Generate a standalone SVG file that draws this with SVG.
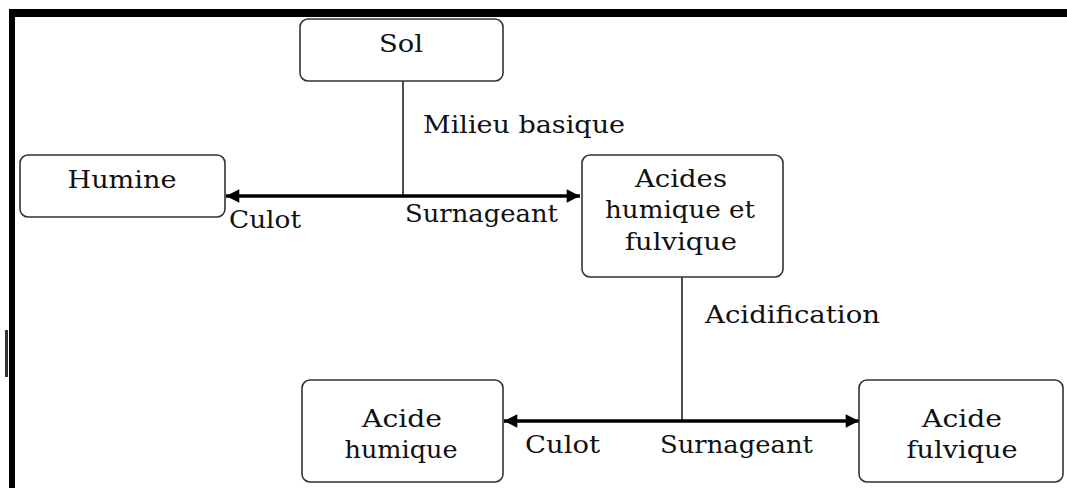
<svg xmlns="http://www.w3.org/2000/svg" width="1067" height="488" viewBox="0 0 1067 488">
<defs>
<style>
.box{fill:#fff;stroke:#333;stroke-width:1.6}
.t{font-family:"DejaVu Serif","Liberation Serif",serif;font-size:24px;fill:#111;text-anchor:middle}
.l{font-family:"DejaVu Serif","Liberation Serif",serif;font-size:24px;fill:#111}
.stem{stroke:#222;stroke-width:1.6;fill:none}
.arr{stroke:#000;stroke-width:3.5;fill:none}
</style>
<marker id="ah" viewBox="0 0 10 10" refX="10" refY="5" markerWidth="4.5" markerHeight="3.8" orient="auto-start-reverse" markerUnits="strokeWidth">
<path d="M0,0 L10,5 L0,10 z" fill="#000"/>
</marker>
</defs>
<rect x="0" y="0" width="1067" height="488" fill="#fff"/>
<g id="frame">
<rect x="9" y="9" width="1058" height="8" fill="#000"/>
<rect x="9" y="9" width="6" height="479" fill="#000"/>
<rect x="5" y="330" width="3" height="47" fill="#333"/>
</g>
<g id="connectors">
<line class="stem" x1="403" y1="81" x2="403" y2="196"/>
<line class="arr" x1="403" y1="196" x2="226" y2="196" marker-end="url(#ah)"/>
<line class="arr" x1="403" y1="196" x2="580" y2="196" marker-end="url(#ah)"/>
<line class="stem" x1="682" y1="277" x2="682" y2="421"/>
<line class="arr" x1="682" y1="421" x2="504" y2="421" marker-end="url(#ah)"/>
<line class="arr" x1="682" y1="421" x2="859" y2="421" marker-end="url(#ah)"/>
<text class="l" x="423" y="133" textLength="202" lengthAdjust="spacingAndGlyphs">Milieu basique</text>
<text class="l" x="229" y="228" textLength="72" lengthAdjust="spacingAndGlyphs">Culot</text>
<text class="l" x="405" y="222" textLength="153" lengthAdjust="spacingAndGlyphs">Surnageant</text>
<text class="l" x="705" y="323" textLength="175" lengthAdjust="spacingAndGlyphs">Acidification</text>
<text class="l" x="525" y="453" textLength="75" lengthAdjust="spacingAndGlyphs">Culot</text>
<text class="l" x="660" y="453" textLength="153" lengthAdjust="spacingAndGlyphs">Surnageant</text>
</g>
<g id="sol">
<rect class="box" x="300" y="19" width="203" height="62" rx="8"/>
<text class="t" x="401" y="52" textLength="44" lengthAdjust="spacingAndGlyphs">Sol</text>
</g>
<g id="humine">
<rect class="box" x="20" y="155" width="205" height="62" rx="8"/>
<text class="t" x="122" y="188" textLength="109" lengthAdjust="spacingAndGlyphs">Humine</text>
</g>
<g id="acides">
<rect class="box" x="582" y="155" width="201" height="122" rx="8"/>
<text class="t" x="681" y="187" textLength="92" lengthAdjust="spacingAndGlyphs">Acides</text>
<text class="t" x="680" y="218" textLength="150" lengthAdjust="spacingAndGlyphs">humique et</text>
<text class="t" x="681" y="250" textLength="112" lengthAdjust="spacingAndGlyphs">fulvique</text>
</g>
<g id="acide-humique">
<rect class="box" x="302" y="380" width="201" height="102" rx="8"/>
<text class="t" x="402" y="427" textLength="80" lengthAdjust="spacingAndGlyphs">Acide</text>
<text class="t" x="401" y="458" textLength="113" lengthAdjust="spacingAndGlyphs">humique</text>
</g>
<g id="acide-fulvique">
<rect class="box" x="859" y="380" width="204" height="102" rx="8"/>
<text class="t" x="962" y="427" textLength="80" lengthAdjust="spacingAndGlyphs">Acide</text>
<text class="t" x="962" y="458" textLength="111" lengthAdjust="spacingAndGlyphs">fulvique</text>
</g>
</svg>
